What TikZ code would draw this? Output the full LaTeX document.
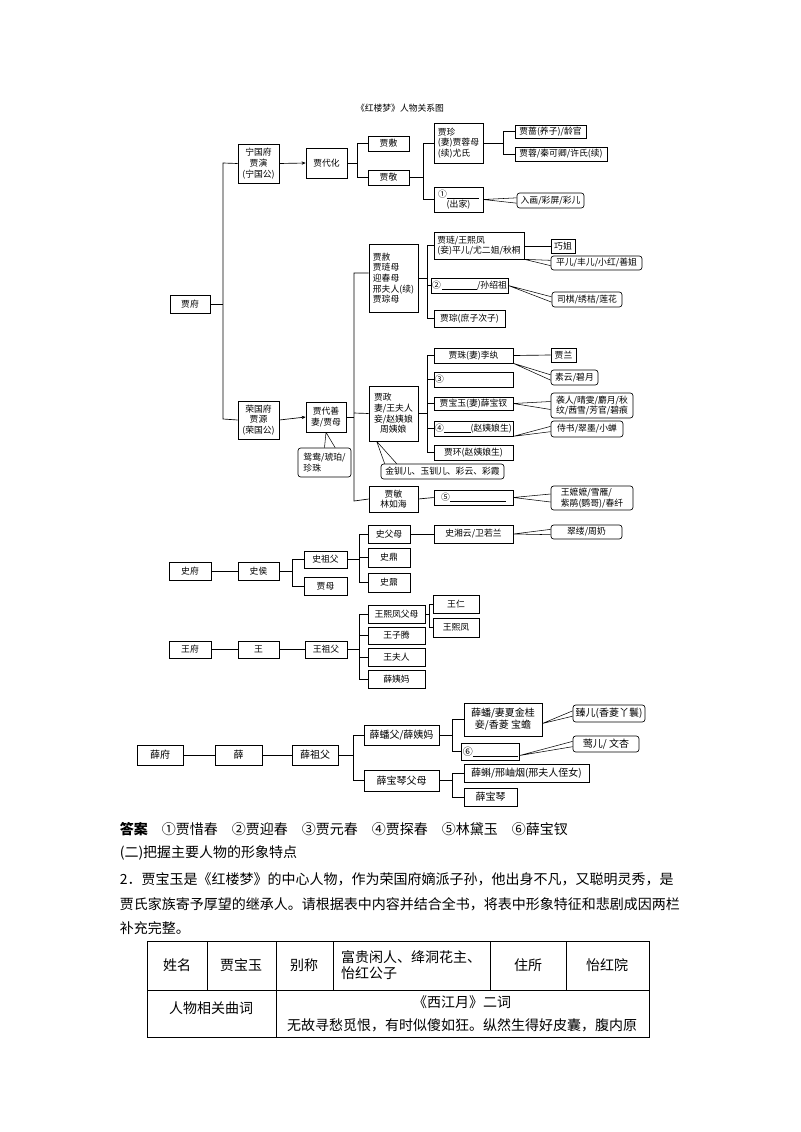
\documentclass[tikz,border=0pt]{standalone}
\usepackage{fontspec}
\setmainfont{Noto Sans CJK SC}
\usetikzlibrary{arrows.meta}
\newcommand\dfont{\fontsize{6.6}{8}\selectfont}
\newcommand\bfont{\fontsize{10.5}{12}\selectfont}
\newcommand\bx[7][]{\node[bx,#1,minimum width={(#5-#3)*0.75pt},minimum height={(#6-#4)*0.75pt}] (#2) at ({(#3+#5)/2},{(#4+#6)/2}) {#7};}
\newcommand\tr[3]{\draw (#1.east) -- (#1.east -| #2,0) |- (#3.west);}
\newcommand\wdg[3]{\draw[wl] (#1) -- ([yshift=#3]#2.west) (#1) -- ([yshift=-#3]#2.west);}
\newcommand\bl[1]{\rule[-1pt]{#1}{0.4pt}}
\tikzset{bx/.style={draw,inner sep=0.8pt,align=center,font=\dfont,line width=0.5pt},
 cb/.style={bx,rounded corners=2pt},
 wl/.style={line width=0.4pt},
 ar/.style={-{Stealth[length=3pt,width=2.5pt]}}}
\begin{document}
\begin{tikzpicture}[x=0.75pt,y=-0.75pt,line width=0.5pt]
\useasboundingbox (0,0) rectangle (800,1132);
\node[font=\dfont] (title) at (400,108) {《红楼梦》人物关系图};
% Ningguo
\bx{jf}{170}{295}{210}{313}{贾府}
\bx{ngf}{238}{144}{279}{183}{宁国府\\贾演\\(宁国公)}
\bx{jdh}{306}{148}{347}{178}{贾代化}
\bx{jfu}{368}{136}{409}{151}{贾敷}
\bx{jj}{368}{170}{409}{185}{贾敬}
\bx[align=left]{jz}{434}{123}{483}{163}{贾珍\\(妻)贾蓉母\\(续)尤氏}
\bx{jq}{515}{125}{586}{138}{贾蔷(养子)/龄官}
\bx{jr}{515}{147}{607}{161}{贾蓉/秦可卿/许氏(续)}
\bx{n1}{434}{187}{483}{212}{①\bl{24pt}\\(出家)}
\bx[cb]{rh}{517}{193}{584}{208}{入画/彩屏/彩儿}
% Rongguo
\bx{rgf}{238}{401}{279}{439}{荣国府\\贾源\\(荣国公)}
\bx{jds}{306}{402}{346}{432}{贾代善\\妻/贾母}
\bx[cb,align=left]{yy}{298}{448}{351}{477}{鸳鸯/琥珀/\\珍珠}
\bx[align=left]{js}{369}{244}{418}{312}{贾赦\\贾琏母\\迎春母\\邢夫人(续)\\贾琮母}
\bx[align=left]{jl}{434}{232}{524}{259}{贾琏/王熙凤\\(妾)平儿/尤二姐/秋桐}
\bx{qj}{551}{239}{575}{253}{巧姐}
\bx[cb]{pe}{551}{256}{642}{270}{平儿/丰儿/小红/善姐}
\bx[align=left]{n2}{434}{278}{505}{293}{②\,\bl{26pt}/孙绍祖}
\bx[cb]{sq}{552}{292}{622}{307}{司棋/绣桔/莲花}
\bx{jc}{434}{310}{505}{327}{贾琮(庶子次子)}
\bx[align=left]{jzh}{369}{386}{418}{441}{贾政\\妻/王夫人\\妾/赵姨娘\\\ \ \ 周姨娘}
\bx{jzu}{434}{348}{513}{363}{贾珠(妻)李纨}
\bx{jla}{551}{348}{576}{362}{贾兰}
\bx[cb]{sy}{551}{370}{598}{385}{素云/碧月}
\bx[align=left,text width={77*0.75pt}]{n3}{434}{372}{513}{387}{③}
\bx{by}{434}{397}{513}{410}{贾宝玉(妻)薛宝钗}
\bx[cb,align=left]{xr}{551}{393}{633}{418}{袭人/晴雯/麝月/秋\\纹/茜雪/芳官/碧痕}
\bx{n4}{434}{421}{513}{436}{④\bl{20pt}(赵姨娘生)}
\bx[cb]{ss}{551}{421}{623}{437}{侍书/翠墨/小蝉}
\bx{jh}{434}{445}{513}{460}{贾环(赵姨娘生)}
\bx[cb]{jce}{381}{464}{504}{479}{金钏儿、玉钏儿、彩云、彩霞}
\bx{jm}{369}{486}{418}{512}{贾敏\\林如海}
\bx[align=left]{n5}{434}{490}{513}{505}{⑤\bl{42pt}}
\bx[cb,align=left]{wmm}{551}{486}{633}{510}{王嬷嬷/雪雁/\\紫鹃(鹦哥)/春纤}
% connectors Jia
\coordinate (top) at (223,163);
\draw (jf.east) -- (223,304);
\draw (ngf.west) -- (223,163) -- (223,419) -- (rgf.west);
\draw[ar] (ngf.east) -- (jdh.west);
\draw[ar] (rgf.east) -- (jds.west);
\tr{jdh}{357}{jfu}\tr{jdh}{357}{jj}
\tr{jj}{423}{jz}\tr{jj}{423}{n1}
\tr{jz}{503}{jq}\tr{jz}{503}{jr}
\draw (jds.east) -- (354,417);
\draw (js.west |- 0,273) -| (354,501) -- (jm.west);
\draw (354,413) -- (jzh.west);
\tr{js}{427}{jl}\tr{js}{427}{n2}\tr{js}{427}{jc}
\tr{jzh}{427}{jzu}\tr{jzh}{427}{n3}\tr{jzh}{427}{by}\tr{jzh}{427}{n4}\tr{jzh}{427}{jh}
\draw (jl.east |- qj.west) -- (qj.west);
\draw (jzu.east) -- (jla.west);
\draw (jm.east) -- (n5.west);
\wdg{jl.south east}{pe}{2pt}
\wdg{n1.east}{rh}{2pt}
\wdg{n2.east}{sq}{2pt}
\wdg{jzu.south east}{sy}{2pt}
\wdg{by.east}{xr}{3pt}
\wdg{n4.south east}{ss}{2pt}
\wdg{n5.east}{wmm}{3pt}
\draw[wl] (jds.south) -- (yy.north) (jds.south) -- ([xshift=8pt]yy.north);
\draw[wl] (jzh.south west) ++(8,0) -- ([xshift=3pt]jce.north west) (jzh.south west) ++(8,0) -- ([xshift=12pt]jce.north west);
% Shi
\bx{sf}{169}{562}{211}{580}{史府}
\bx{sh}{238}{562}{279}{580}{史侯}
\bx{szf}{304}{551}{347}{568}{史祖父}
\bx{jmu}{304}{577}{347}{595}{贾母}
\bx{sfm}{368}{525}{410}{543}{史父母}
\bx{sd}{368}{548}{410}{567}{史鼎}
\bx{sn}{368}{573}{410}{592}{史鼐}
\bx{sxy}{434}{525}{513}{543}{史湘云/卫若兰}
\bx[cb]{cl}{551}{525}{622}{539}{翠缕/周奶}
\draw (sf.east) -- (sh.west);
\tr{sh}{292}{szf}\tr{sh}{292}{jmu}
\tr{szf}{359}{sfm}\tr{szf}{359}{sd}\tr{szf}{359}{sn}
\draw (sfm.east) -- (sxy.west);
\wdg{sxy.east}{cl}{2pt}
% Wang
\bx{wf}{169}{641}{211}{658}{王府}
\bx{wa}{238}{641}{279}{658}{王}
\bx{wzf}{305}{641}{347}{658}{王祖父}
\bx{wfm}{368}{605}{425}{623}{王熙凤父母}
\bx{wzt}{368}{627}{425}{644}{王子腾}
\bx{wfr}{368}{648}{425}{666}{王夫人}
\bx{xym}{368}{670}{425}{688}{薛姨妈}
\bx{wr}{433}{595}{479}{613}{王仁}
\bx{wxf}{433}{618}{479}{637}{王熙凤}
\draw (wf.east) -- (wa.west) (wa.east) -- (wzf.west);
\tr{wzf}{359}{wfm}\tr{wzf}{359}{wzt}\tr{wzf}{359}{wfr}\tr{wzf}{359}{xym}
\tr{wfm}{429}{wr}\tr{wfm}{429}{wxf}
% Xue
\tikzset{bx/.append style={font=\fontsize{7.5}{9}\selectfont}}
\bx{xf}{137}{745}{183}{765}{薛府}
\bx{xu}{215}{745}{262}{765}{薛}
\bx{xzf}{292}{745}{338}{765}{薛祖父}
\bx{xpf}{364}{725}{439}{745}{薛蟠父/薛姨妈}
\bx{xbqf}{364}{770}{439}{791}{薛宝琴父母}
\bx{xp}{464}{703}{542}{736}{薛蟠/妻夏金桂\\妾/香菱 宝蟾}
\bx[align=left]{n6}{464}{743}{517}{760}{⑥\bl{34pt}}
\bx{xk}{464}{764}{589}{782}{薛蝌/邢岫烟(邢夫人侄女)}
\bx{xbq}{464}{788}{517}{806}{薛宝琴}
\bx[cb]{ze}{573}{705}{645}{722}{臻儿(香菱丫鬟)}
\bx[cb]{ye}{573}{736}{639}{752}{莺儿/ 文杏}
\draw (xf.east) -- (xu.west) (xu.east) -- (xzf.west);
\tr{xzf}{353}{xpf}\tr{xzf}{353}{xbqf}
\tr{xpf}{452}{xp}\tr{xpf}{452}{n6}
\tr{xbqf}{452}{xk}\tr{xbqf}{452}{xbq}
\draw[wl] ([yshift=-3pt]xp.east) -- ([yshift=2pt]ze.west) ([yshift=-3pt]xp.east) -- ([yshift=-2pt]ze.west);
\draw[wl] ([yshift=-3pt]n6.east) -- ([yshift=2pt]ye.west) ([yshift=-3pt]n6.east) -- ([yshift=-2pt]ye.west);
% text
\node[anchor=west,font=\bfont] (ans) at (115,829) {\textbf{答案}\quad ①贾惜春\quad ②贾迎春\quad ③贾元春\quad ④贾探春\quad ⑤林黛玉\quad ⑥薛宝钗};
\node[anchor=west,font=\bfont] (t2) at (115,853) {(二)把握主要人物的形象特点};
\node[anchor=west,font=\bfont] (t3) at (115,879) {2．贾宝玉是《红楼梦》的中心人物，作为荣国府嫡派子孙，他出身不凡，又聪明灵秀，是};
\node[anchor=west,font=\bfont] (t4) at (115,904) {贾氏家族寄予厚望的继承人。请根据表中内容并结合全书，将表中形象特征和悲剧成因两栏};
\node[anchor=west,font=\bfont] (t5) at (115,928) {补充完整。};
\draw (147,941) rectangle (649,1037);
\draw (147,990) -- (649,990);
\foreach \x in {207,276,333,490,566} \draw (\x,941) -- (\x,990);
\draw (276,990) -- (276,1037);
\node[font=\bfont] (c1) at (177,965) {姓名};
\node[font=\bfont] (c2) at (241,965) {贾宝玉};
\node[font=\bfont] (c3) at (304,965) {别称};
\node[font=\bfont,align=left] (c4) at (411,965) {富贵闲人、绛洞花主、\\怡红公子};
\node[font=\bfont] (c5) at (528,965) {住所};
\node[font=\bfont] (c6) at (607,965) {怡红院};
\node[font=\bfont] (c7) at (211,1008) {人物相关曲词};
\node[font=\bfont] (c8) at (462,1002) {《西江月》二词};
\node[font=\bfont] (c9) at (462,1025) {无故寻愁觅恨，有时似傻如狂。纵然生得好皮囊，腹内原};
\end{tikzpicture}
\end{document}
